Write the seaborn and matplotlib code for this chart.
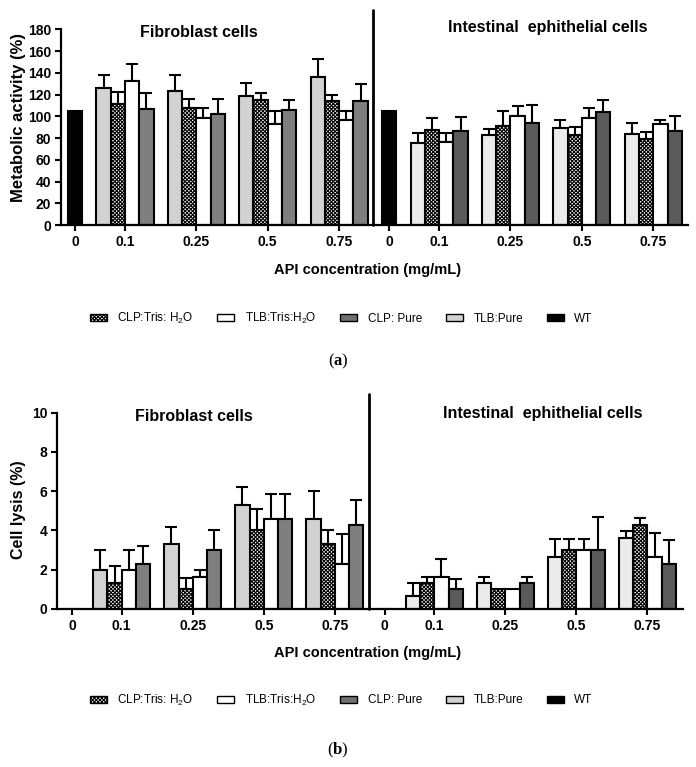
import numpy as np
import pandas as pd
import matplotlib
matplotlib.use("Agg")
import matplotlib.pyplot as plt
import seaborn as sns
from matplotlib.patches import Patch

# ---------------- data ----------------
concentrations = ["0.1", "0.25", "0.5", "0.75"]
sections = ["Fibroblast cells", "Intestinal  ephithelial cells"]
series = ["TLB:Pure", "CLP:Tris: H2O", "TLB:Tris:H2O", "CLP: Pure"]   # bar order inside a group
legend_order = ["CLP:Tris: H2O", "TLB:Tris:H2O", "CLP: Pure", "TLB:Pure", "WT"]
legend_labels = ["CLP:Tris: H$_2$O", "TLB:Tris:H$_2$O", "CLP: Pure", "TLB:Pure", "WT"]

# (a) metabolic activity (%)
ma_wt = [105, 105]
ma_fib_tlb_pure = [126, 123, 119, 136]
ma_fib_tlb_pure_err = [12, 15, 12, 17]
ma_fib_clp_tris = [111, 108, 115, 114]
ma_fib_clp_tris_err = [11.5, 8, 6, 6]
ma_fib_tlb_tris = [132, 98, 93, 97]
ma_fib_tlb_tris_err = [16, 10, 12, 8]
ma_fib_clp_pure = [107, 102, 106, 114]
ma_fib_clp_pure_err = [14, 14, 9, 16]

ma_int_tlb_pure = [75.5, 83, 89, 84]
ma_int_tlb_pure_err = [9.5, 5, 8, 10]
ma_int_clp_tris = [87, 91, 83, 79]
ma_int_clp_tris_err = [11.5, 14, 7, 7]
ma_int_tlb_tris = [76.5, 100, 98, 93]
ma_int_tlb_tris_err = [8.5, 9.5, 10, 4]
ma_int_clp_pure = [86.5, 94, 104, 86.5]
ma_int_clp_pure_err = [13, 16, 11, 13.5]

# (b) cell lysis (%)
cl_wt = [0, 0]
cl_fib_tlb_pure = [2.0, 3.3, 5.3, 4.6]
cl_fib_tlb_pure_err = [1.0, 0.9, 0.9, 1.4]
cl_fib_clp_tris = [1.3, 1.0, 4.0, 3.3]
cl_fib_clp_tris_err = [0.9, 0.6, 1.1, 0.7]
cl_fib_tlb_tris = [2.0, 1.65, 4.6, 2.3]
cl_fib_tlb_tris_err = [1.0, 0.35, 1.25, 1.5]
cl_fib_clp_pure = [2.3, 3.0, 4.6, 4.3]
cl_fib_clp_pure_err = [0.9, 1.0, 1.25, 1.25]

cl_int_tlb_pure = [0.65, 1.3, 2.65, 3.6]
cl_int_tlb_pure_err = [0.7, 0.35, 0.9, 0.35]
cl_int_clp_tris = [1.3, 1.0, 3.0, 4.3]
cl_int_clp_tris_err = [0.35, 0, 0.55, 0.35]
cl_int_tlb_tris = [1.65, 1.0, 3.0, 2.65]
cl_int_tlb_tris_err = [0.9, 0, 0.55, 1.2]
cl_int_clp_pure = [1.0, 1.3, 3.0, 2.3]
cl_int_clp_pure_err = [0.55, 0.35, 1.7, 1.2]

# ---------------- style ----------------
sns.set_theme(style="ticks")
plt.rcParams["font.family"] = ["Liberation Sans", "DejaVu Sans"]
plt.rcParams["mathtext.fontset"] = "custom"
plt.rcParams["mathtext.rm"] = "Liberation Sans"
plt.rcParams["mathtext.bf"] = "Liberation Serif:bold"
plt.rcParams["mathtext.default"] = "regular"
plt.rcParams["hatch.linewidth"] = 0.8
plt.rcParams["text.color"] = "black"
plt.rcParams["axes.labelcolor"] = "black"
plt.rcParams["xtick.color"] = "black"
plt.rcParams["ytick.color"] = "black"
plt.rcParams["axes.edgecolor"] = "black"

section_palettes = [
    {"TLB:Pure": "#d2d2d2", "CLP:Tris: H2O": "#ffffff", "TLB:Tris:H2O": "#ffffff",
     "CLP: Pure": "#7f7f7f", "WT": "#000000"},
    {"TLB:Pure": "#ebebeb", "CLP:Tris: H2O": "#ffffff", "TLB:Tris:H2O": "#ffffff",
     "CLP: Pure": "#5a5a5a", "WT": "#000000"},
]
CHECK_HATCH = "xxxxxxxxx"
SECTION_SHIFT = 22  # bar slots between sections
GROUP_SLOTS = 5


def build_frame(wt, groups):
    rows = []
    for s in range(2):
        base = s * SECTION_SHIFT
        rows.append(dict(section=s, series="WT", pos=base, value=wt[s], err=0.0))
        for si, name in enumerate(series):
            vals, errs = groups[s][si]
            for gi in range(len(concentrations)):
                rows.append(dict(section=s, series=name,
                                 pos=base + 2 + GROUP_SLOTS * gi + si,
                                 value=vals[gi], err=errs[gi]))
    return pd.DataFrame(rows)


df_a = build_frame(ma_wt, [
    [(ma_fib_tlb_pure, ma_fib_tlb_pure_err), (ma_fib_clp_tris, ma_fib_clp_tris_err),
     (ma_fib_tlb_tris, ma_fib_tlb_tris_err), (ma_fib_clp_pure, ma_fib_clp_pure_err)],
    [(ma_int_tlb_pure, ma_int_tlb_pure_err), (ma_int_clp_tris, ma_int_clp_tris_err),
     (ma_int_tlb_tris, ma_int_tlb_tris_err), (ma_int_clp_pure, ma_int_clp_pure_err)],
])
df_b = build_frame(cl_wt, [
    [(cl_fib_tlb_pure, cl_fib_tlb_pure_err), (cl_fib_clp_tris, cl_fib_clp_tris_err),
     (cl_fib_tlb_tris, cl_fib_tlb_tris_err), (cl_fib_clp_pure, cl_fib_clp_pure_err)],
    [(cl_int_tlb_pure, cl_int_tlb_pure_err), (cl_int_clp_tris, cl_int_clp_tris_err),
     (cl_int_tlb_tris, cl_int_tlb_tris_err), (cl_int_clp_pure, cl_int_clp_pure_err)],
])

tick_pos, tick_lab = [], []
for s in range(2):
    tick_pos.append(s * SECTION_SHIFT)
    tick_lab.append("0")
    for gi, c in enumerate(concentrations):
        tick_pos.append(s * SECTION_SHIFT + 2 + GROUP_SLOTS * gi + 1.5)
        tick_lab.append(c)


def draw_panel(ax, df, ylim, yticks, xlim, divider_top):
    for s in range(2):
        sub = df[df.section == s]
        sns.barplot(data=sub, x="pos", y="value", hue="series", hue_order=legend_order,
                    palette=section_palettes[s], dodge=False, native_scale=True,
                    width=1.0, edgecolor="black", linewidth=1.5, errorbar=None,
                    legend=False, ax=ax, zorder=2)
    check_pos = df.loc[df.series == "CLP:Tris: H2O", "pos"].to_numpy()
    for p in ax.patches:
        xc = p.get_x() + p.get_width() / 2
        if np.any(np.isclose(check_pos, xc)):
            p.set_hatch(CHECK_HATCH)
    e = df[df.err > 0]
    ax.errorbar(e.pos, e.value, yerr=[np.zeros(len(e)), e.err], fmt="none",
                ecolor="black", elinewidth=1.5, capsize=4, capthick=1.5, zorder=1)
    ax.set_xlim(*xlim)
    ax.set_ylim(*ylim)
    ax.set_yticks(yticks)
    ax.set_xticks(tick_pos)
    ax.set_xticklabels(tick_lab)
    ax.set_xlabel("")
    ax.axvline(20.9, ymin=0, ymax=divider_top, color="black", lw=2.0, clip_on=False)
    sns.despine(ax=ax)
    for sp in ("left", "bottom"):
        ax.spines[sp].set_linewidth(1.6)
    ax.tick_params(axis="both", length=4, width=1.5, labelsize=10, pad=3, colors="black")
    for t in ax.get_xticklabels() + ax.get_yticklabels():
        t.set_fontweight("bold")


fig = plt.figure(figsize=(6.96, 7.67), dpi=100)
ax_a = fig.add_axes([0.0876, 0.7066, 0.9009, 0.2552])
ax_b = fig.add_axes([0.0819, 0.2060, 0.8994, 0.2559])

draw_panel(ax_a, df_a, (0, 180), np.arange(0, 181, 20), (-0.98, 42.93), 1.099)
draw_panel(ax_b, df_b, (0, 10), np.arange(0, 11, 2), (-1.05, 43.0), 1.095)

ax_a.set_ylabel("Metabolic activity (%)", fontsize=12, fontweight="bold", color="black")
ax_a.yaxis.set_label_coords(-0.056, 0.55)
ax_b.set_ylabel("Cell lysis (%)", fontsize=11.5, fontweight="bold", color="black")
ax_b.yaxis.set_label_coords(-0.049, 0.504)

# section titles
for (x, y, s) in [(0.286, 0.958, 0), (0.787, 0.9635, 1), (0.279, 0.4576, 0), (0.780, 0.4615, 1)]:
    fig.text(x, y, sections[s], ha="center", va="center", fontsize=11.5,
             fontweight="bold", color="black")

# x labels
for ycen in (0.648, 0.1486):
    fig.text(0.528, ycen, "API concentration (mg/mL)", ha="center", va="center",
             fontsize=10.5, fontweight="bold", color="black")

# legends
leg_colors = {"CLP:Tris: H2O": "#ffffff", "TLB:Tris:H2O": "#ffffff", "CLP: Pure": "#707070",
              "TLB:Pure": "#d2d2d2", "WT": "#000000"}
handles = [Patch(facecolor=leg_colors[n], edgecolor="black", linewidth=1.0,
                 hatch=CHECK_HATCH if n == "CLP:Tris: H2O" else None) for n in legend_order]
for ycen in (0.585, 0.0874):
    leg = fig.legend(handles, legend_labels, ncol=5, loc="center", bbox_to_anchor=(0.49, ycen),
                     frameon=False, fontsize=8.5, handlelength=1.45, handleheight=0.55,
                     handletextpad=0.9, columnspacing=2.0)
    for t in leg.get_texts():
        t.set_color("black")

# panel captions
fig.text(0.486, 0.5293, r"($\mathbf{a}$)", ha="center", va="center", fontsize=12,
         family=["Liberation Serif", "DejaVu Serif"], color="black")
fig.text(0.486, 0.0222, r"($\mathbf{b}$)", ha="center", va="center", fontsize=12,
         family=["Liberation Serif", "DejaVu Serif"], color="black")

fig.savefig("out.png", dpi=100)
